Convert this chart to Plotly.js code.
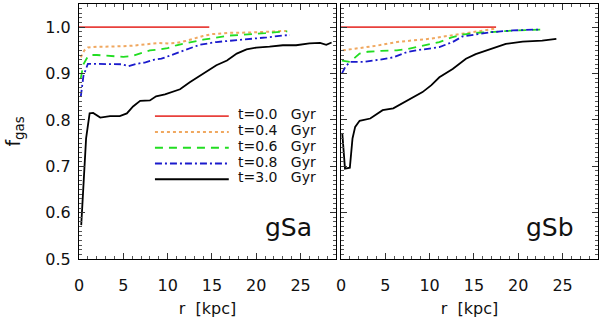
<!DOCTYPE html>
<html>
<head>
<meta charset="utf-8">
<script src="https://cdn.plot.ly/plotly-3.0.1.min.js"></script>
<style>html,body{margin:0;padding:0;background:#fff;}#chart{width:600px;height:319px;}</style>
</head>
<body>
<div id="chart"></div>
<script>
// ---- gSa (left panel) ----
var gSa_t00_r = [0, 14.7];
var gSa_t00_f = [1.0, 1.0];
var gSa_t04_r = [0.2, 0.6, 1.0, 2, 3, 4, 5, 6, 7, 8, 9, 10, 11, 12, 13, 14, 15, 16, 17, 18, 19, 20, 21, 22, 23.4];
var gSa_t04_f = [0.935, 0.950, 0.956, 0.958, 0.958, 0.958, 0.959, 0.960, 0.962, 0.965, 0.966, 0.965, 0.966, 0.970, 0.976, 0.981, 0.985, 0.987, 0.988, 0.988, 0.988, 0.989, 0.990, 0.991, 0.992];
var gSa_t06_r = [0.2, 0.5, 1.0, 1.5, 2, 3, 4, 5, 6, 7, 8, 9, 10, 11, 12, 13, 14, 15, 16, 17, 18, 19, 20, 21, 22, 23.5];
var gSa_t06_f = [0.89, 0.92, 0.937, 0.940, 0.940, 0.939, 0.937, 0.936, 0.938, 0.944, 0.950, 0.952, 0.955, 0.961, 0.965, 0.970, 0.973, 0.976, 0.979, 0.982, 0.983, 0.984, 0.985, 0.987, 0.989, 0.991];
var gSa_t08_r = [0.2, 0.5, 1.0, 2, 3, 4, 4.8, 5.6, 6.5, 7.5, 8.5, 9.3, 10.3, 11.2, 12.1, 13.6, 15.5, 17.4, 19.3, 21.2, 23, 23.8];
var gSa_t08_f = [0.85, 0.895, 0.921, 0.921, 0.921, 0.921, 0.920, 0.916, 0.921, 0.924, 0.930, 0.932, 0.939, 0.946, 0.952, 0.962, 0.968, 0.971, 0.975, 0.978, 0.982, 0.983];
var gSa_t30_r = [0.25, 0.5, 0.8, 1.2, 1.6, 2.4, 3.5, 4.6, 5.4, 6.1, 6.9, 8.0, 8.7, 9.7, 10.6, 11.4, 12.5, 13.6, 14.8, 15.5, 16.7, 17.8, 18.9, 20.0, 21.5, 23.0, 24.5, 26.0, 27.2, 27.9, 28.5];
var gSa_t30_f = [0.573, 0.66, 0.76, 0.814, 0.815, 0.805, 0.808, 0.808, 0.814, 0.829, 0.841, 0.842, 0.851, 0.855, 0.860, 0.866, 0.881, 0.894, 0.909, 0.918, 0.928, 0.943, 0.952, 0.956, 0.958, 0.961, 0.961, 0.965, 0.966, 0.962, 0.967];

// ---- gSb (right panel) ----
var gSb_t00_r = [0, 17.5];
var gSb_t00_f = [1.0, 1.0];
var gSb_t04_r = [0.2, 2, 4, 6.3, 8, 10, 12, 13.7, 15.5, 17.5];
var gSb_t04_f = [0.950, 0.954, 0.960, 0.968, 0.971, 0.975, 0.981, 0.986, 0.991, 0.997];
var gSb_t06_r = [0.1, 1.0, 2.1, 3, 4.5, 6.3, 7.5, 8.5, 10, 11.1, 12.5, 13.7, 15.5, 17.5, 19.8, 21.3, 23.1];
var gSb_t06_f = [0.928, 0.925, 0.943, 0.947, 0.949, 0.950, 0.953, 0.957, 0.963, 0.968, 0.978, 0.984, 0.988, 0.991, 0.993, 0.994, 0.995];
var gSb_t08_r = [0.1, 0.5, 1.0, 2.5, 4.4, 5.9, 7.4, 8.5, 11.1, 12.6, 13.7, 15.3, 16.8, 19.4, 21.3, 22.4];
var gSb_t08_f = [0.900, 0.915, 0.925, 0.925, 0.930, 0.935, 0.946, 0.950, 0.957, 0.968, 0.980, 0.985, 0.989, 0.993, 0.994, 0.995];
var gSb_t30_r = [0.15, 0.45, 1.0, 1.3, 1.6, 2.1, 3.3, 4.7, 5.9, 6.8, 7.8, 9.2, 10.2, 11.1, 12.6, 14.1, 15.2, 16.4, 17.5, 18.6, 20.5, 22.7, 24.3];
var gSb_t30_f = [0.770, 0.695, 0.697, 0.760, 0.785, 0.798, 0.803, 0.821, 0.825, 0.835, 0.846, 0.860, 0.875, 0.892, 0.910, 0.932, 0.942, 0.950, 0.957, 0.964, 0.969, 0.971, 0.975];

var seriesNames = ['t=0.0\u00a0\u00a0\u00a0Gyr', 't=0.4\u00a0\u00a0\u00a0Gyr', 't=0.6\u00a0\u00a0\u00a0Gyr', 't=0.8\u00a0\u00a0\u00a0Gyr', 't=3.0\u00a0\u00a0\u00a0Gyr'];
var panelLabels = ['gSa', 'gSb'];
var xTicks = [0, 5, 10, 15, 20, 25];
var yTicks = [0.5, 0.6, 0.7, 0.8, 0.9, 1.0];

var styles = [
  {color: '#e8413c', width: 1.8, dash: 'solid'},
  {color: '#f0a860', width: 2, dash: 'dot'},
  {color: '#22dd22', width: 1.8, dash: '8px,6px'},
  {color: '#1a1acc', width: 1.8, dash: '7px,3px,2px,3px'},
  {color: '#000000', width: 1.8, dash: 'solid'}
];

var panels = [
  {xa: 'x', ya: 'y', r: [gSa_t00_r, gSa_t04_r, gSa_t06_r, gSa_t08_r, gSa_t30_r], f: [gSa_t00_f, gSa_t04_f, gSa_t06_f, gSa_t08_f, gSa_t30_f]},
  {xa: 'x2', ya: 'y2', r: [gSb_t00_r, gSb_t04_r, gSb_t06_r, gSb_t08_r, gSb_t30_r], f: [gSb_t00_f, gSb_t04_f, gSb_t06_f, gSb_t08_f, gSb_t30_f]}
];

var traces = [];
panels.forEach(function (p) {
  for (var i = 0; i < 5; i++) {
    traces.push({
      x: p.r[i], y: p.f[i], xaxis: p.xa, yaxis: p.ya, type: 'scatter', mode: 'lines',
      name: seriesNames[i], showlegend: false,
      line: {color: styles[i].color, width: styles[i].width, dash: styles[i].dash}
    });
  }
});

var tickFont = {family: 'DejaVu Sans', size: 16, color: '#111'};
function xAxis(domain, anchor) {
  return {
    domain: domain, anchor: anchor, range: [0, 29], tickmode: 'array', tickvals: xTicks,
    ticktext: xTicks.map(String), ticks: 'inside', ticklen: 6, tickwidth: 1, tickcolor: '#333',
    minor: {dtick: 1, tick0: 0, ticks: 'inside', ticklen: 3, tickwidth: 1, tickcolor: '#555'},
    showline: true, linecolor: '#000', linewidth: 1, mirror: 'ticks', showgrid: false, zeroline: false,
    tickfont: tickFont, ticklabelstandoff: 12,
    title: {text: 'r  [kpc]', font: {family: 'DejaVu Sans', size: 16, color: '#111'}, standoff: 8},
    automargin: false
  };
}
function yAxis(anchor, showLabels) {
  return {
    anchor: anchor, range: [0.5, 1.05], tickmode: 'array', tickvals: yTicks,
    ticktext: yTicks.map(function (v) { return v.toFixed(1); }), showticklabels: showLabels,
    ticks: 'inside', ticklen: 6, tickwidth: 1, tickcolor: '#333',
    minor: {dtick: 0.01, tick0: 0.5, ticks: 'inside', ticklen: 3, tickwidth: 1, tickcolor: '#555'},
    showline: true, linecolor: '#000', linewidth: 1, mirror: 'ticks', showgrid: false, zeroline: false,
    tickfont: tickFont, ticklabelstandoff: 4, automargin: false
  };
}

var layout = {
  width: 600, height: 319,
  margin: {l: 79, r: 2, t: 4, b: 60},
  paper_bgcolor: '#fff', plot_bgcolor: '#fff',
  showlegend: false,
  xaxis: xAxis([0, 0.4952], 'y'),
  xaxis2: xAxis([0.5048, 1], 'y2'),
  yaxis: yAxis('x', true),
  yaxis2: Object.assign(yAxis('x2', false), {matches: 'y'}),
  shapes: [],
  annotations: []
};
layout.yaxis.title = {text: 'f<sub>gas</sub>', font: {family: 'DejaVu Sans', size: 19, color: '#111'}, standoff: 19};

// legend (drawn inside left panel)
var legY = [0.808, 0.774, 0.740, 0.706, 0.672];
for (var i = 0; i < 5; i++) {
  layout.shapes.push({type: 'line', xref: 'x', yref: 'y', x0: 8.57, x1: 16.9, y0: legY[i], y1: legY[i],
    line: {color: styles[i].color, width: styles[i].width, dash: styles[i].dash}});
  layout.annotations.push({xref: 'x', yref: 'y', x: 17.7, y: legY[i] + 0.004, xanchor: 'left', yanchor: 'middle',
    text: seriesNames[i], showarrow: false, font: {family: 'DejaVu Sans', size: 14, color: '#111'}});
}
// panel labels
['x', 'x2'].forEach(function (xa, k) {
  layout.annotations.push({xref: xa + ' domain', yref: 'y domain', x: 1, y: 0.125, xanchor: 'right', yanchor: 'middle',
    xshift: -22, text: panelLabels[k], showarrow: false, font: {family: 'DejaVu Sans', size: 25, color: '#111'}});
});

Plotly.newPlot('chart', traces, layout, {displayModeBar: false, staticPlot: true});
</script>
</body>
</html>
